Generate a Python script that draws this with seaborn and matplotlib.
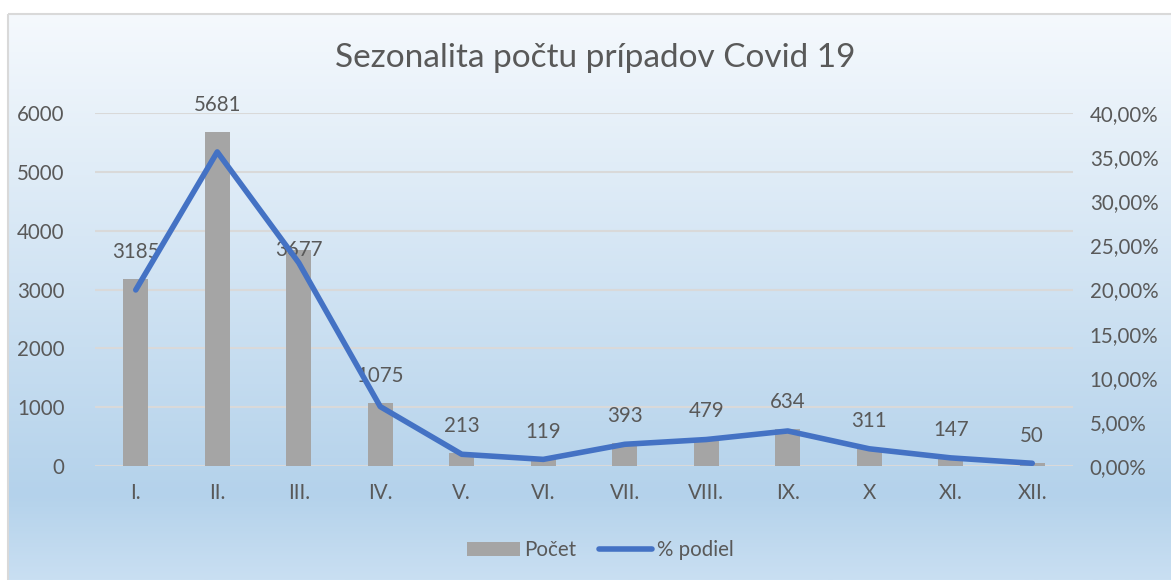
import numpy as np
import matplotlib
matplotlib.use("Agg")
import matplotlib.pyplot as plt
import seaborn as sns
from matplotlib.colors import LinearSegmentedColormap
from matplotlib.patches import Patch, Rectangle
from matplotlib.lines import Line2D
from matplotlib.ticker import FuncFormatter

# data
months = ["I.", "II.", "III.", "IV.", "V.", "VI.", "VII.", "VIII.", "IX.", "X", "XI.", "XII."]
counts = [3185, 5681, 3677, 1075, 213, 119, 393, 479, 634, 311, 147, 50]
share_pct = [19.95, 35.59, 23.03, 6.73, 1.33, 0.75, 2.46, 3.00, 3.97, 1.95, 0.92, 0.31]

title = "Sezonalita počtu prípadov Covid 19"
bar_color = "#A5A5A5"
line_color = "#4472C4"
text_color = "#595959"
grid_color = "#D9D9D9"

sns.set_style("white")
plt.rcParams['font.family'] = ['Lato', 'DejaVu Sans']

W, H = 1171, 580
fig = plt.figure(figsize=(W / 100, H / 100), dpi=100)

# background: white page, framed chart area with vertical gradient
bg = fig.add_axes([0, 0, 1, 1])
bg.set_xlim(0, W)
bg.set_ylim(H, 0)
bg.axis("off")
grad_cmap = LinearSegmentedColormap.from_list(
    "bg", [(0.0, "#F5F9FD"), (0.85, "#B4D2EB"), (1.0, "#C9DFF2")])
grad = np.linspace(0, 1, 256).reshape(-1, 1)
bg.imshow(grad, cmap=grad_cmap, aspect="auto", extent=(8, W + 5, H, 14), zorder=0)
bg.add_patch(Rectangle((7.5, 13.5), W, H, fill=False, edgecolor=grid_color, lw=1.5, zorder=1))

# main axes
ax = fig.add_axes([95 / W, (H - 466) / H, (1073 - 95) / W, (466 - 113) / H])
ax.set_facecolor("none")
sns.barplot(x=months, y=counts, color=bar_color, width=0.31, saturation=1,
            linewidth=0, edgecolor="none", ax=ax, zorder=2)
ax.set_xlim(-0.5, len(months) - 0.5)
ax.set_ylim(0, 6000)
ax.set_yticks(np.arange(0, 6001, 1000))
ax.yaxis.grid(True, color=grid_color, lw=1.5)
ax.set_axisbelow(True)
sns.despine(ax=ax, left=True, bottom=True, right=True, top=True)
ax.set_xlabel("")
ax.set_ylabel("")
ax.tick_params(axis="both", length=0, labelsize=14.8, labelcolor=text_color)
ax.tick_params(axis="y", pad=22)
ax.tick_params(axis="x", pad=12)

# data labels sit above the bars (the March label was moved down onto the bar)
for i, v in enumerate(counts):
    dy = 0 if i == 2 else 19.5
    ax.annotate(str(v), (i, v), xytext=(0, dy), textcoords="offset points",
                ha="center", va="center", fontsize=14.8, color=text_color, zorder=5)

# secondary axis with the percentage share
ax2 = ax.twinx()
ax2.set_facecolor("none")
sns.lineplot(x=np.arange(len(months)), y=np.array(share_pct) / 100, color=line_color,
             lw=4, ax=ax2, solid_capstyle="round", solid_joinstyle="round", zorder=3)
ax2.set_ylim(0, 0.40)
ax2.set_yticks(np.arange(0, 0.401, 0.05))
ax2.yaxis.set_major_formatter(FuncFormatter(lambda v, p: f"{v * 100:.2f}".replace(".", ",") + "%"))
sns.despine(ax=ax2, left=True, bottom=True, right=True, top=True)
ax2.set_ylabel("")
ax2.tick_params(axis="y", length=0, labelsize=14.8, labelcolor=text_color, pad=12)

fig.text(595 / W, 1 - 58 / H, title, ha="center", va="center", fontsize=24, color=text_color)

handles = [Patch(facecolor=bar_color, edgecolor="none"),
           Line2D([0], [0], color=line_color, lw=4, solid_capstyle="round")]
fig.legend(handles, ["Počet", "% podiel"], loc="center", bbox_to_anchor=(600 / W, 1 - 550 / H),
           ncol=2, frameon=False, fontsize=14.8, labelcolor=text_color,
           handlelength=2.6, handletextpad=0.2, columnspacing=1.1)

fig.savefig("out.png", dpi=100)
